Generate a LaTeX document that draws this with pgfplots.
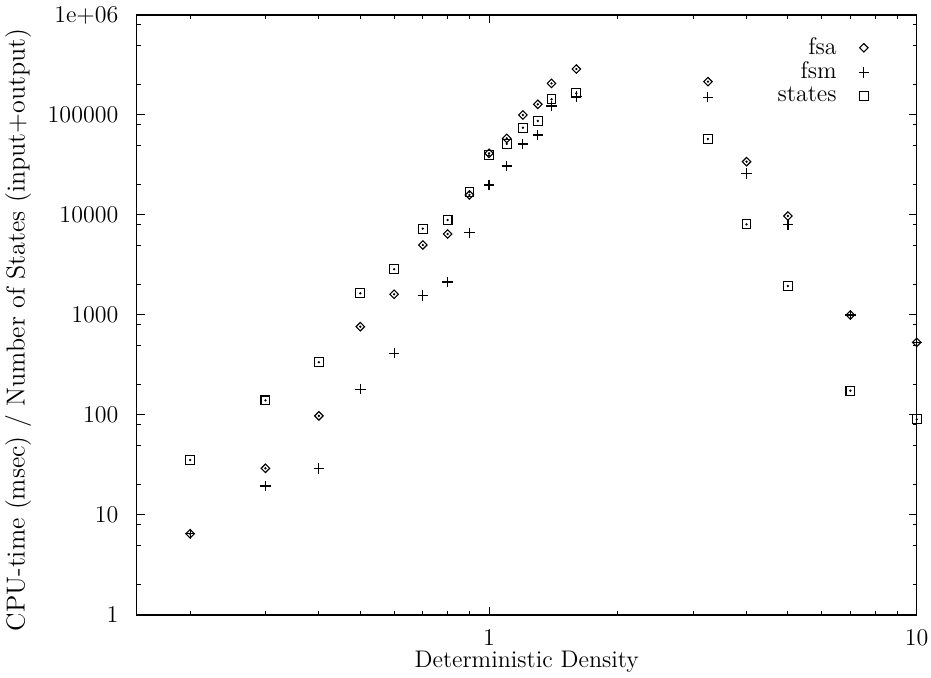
\documentclass[border=0pt,12pt]{standalone}
\usepackage{pgfplots}
\pgfplotsset{compat=1.18}
\pgfplotstableread{
x y
0.2 6.5
0.3 29.3
0.4 98
0.5 764
0.6 1611
0.7 5012
0.8 6457
0.9 15850
1.0 41400
1.1 58400
1.2 100000
1.3 128000
1.4 207000
1.6 288000
3.25 215400
4 34100
5 9770
7 1000
10 533
}\fsa
\pgfplotstableread{
x y
0.2 6.5
0.3 19.5
0.4 29.3
0.5 181
0.6 414
0.7 1573
0.8 2138
0.9 6650
1.0 19950
1.1 30900
1.2 51300
1.3 63100
1.4 123000
1.6 152500
3.25 150300
4 26100
5 8070
7 1000
10 533
}\fsm
\pgfplotstableread{
x y
0.2 35.5
0.3 140
0.4 337
0.5 1648
0.6 2864
0.7 7300
0.8 8913
0.9 17100
1.0 39500
1.1 51300
1.2 74700
1.3 87100
1.4 143600
1.6 164700
3.25 57500
4 8070
5 1950
7 175
10 90.5
}\states
\begin{document}
\begin{tikzpicture}
\begin{axis}[
  at={(0,0)}, anchor=south west,
  scale only axis, width=390pt, height=300pt,
  xmode=log, ymode=log,
  xmin=0.15, xmax=10, ymin=1, ymax=1e6,
  xtick={1,10}, xticklabels={1,10},
  minor xtick={0.2,0.3,0.4,0.5,0.6,0.7,0.8,0.9,2,3,4,5,6,7,8,9},
  ytick={1,10,100,1000,10000,100000,1000000},
  yticklabels={1,10,100,1000,10000,100000,1e+06},
  minor ytick={2,5,8,20,50,80,200,500,800,2000,5000,8000,20000,50000,80000,200000,500000,800000},
  major tick length=4pt, minor tick length=2pt,
  tick style={black, line width=0.5pt},
  axis line style={line width=0.7pt},
  tick align=inside,
  xticklabel style={yshift=-3pt},
  yticklabel style={xshift=-5pt},
  xlabel={Deterministic Density},
  ylabel={CPU-time (msec) / Number of States (input+output)},
  xlabel style={at={(axis description cs:0.5,-0.078)}, anchor=center},
  ylabel style={at={(axis description cs:-0.152,0.475)}, anchor=center, font=\fontsize{13}{15}\selectfont},
  clip=false,
  legend plot pos=right,
  legend cell align=right,
  legend style={draw=none, fill=none, at={(rel axis cs:0.942,0.973)}, anchor=north east,
    row sep=-2pt, column sep=9pt, inner sep=1pt},
]
\addplot[only marks, mark=square, mark size=1.5pt, mark options={rotate=45, line width=0.55pt}] table {\fsa};
\addlegendentry{fsa}
\addplot[only marks, mark=+, mark size=2.6pt, mark options={line width=0.55pt}] table {\fsm};
\addlegendentry{fsm}
\addplot[only marks, mark=square, mark size=2.2pt, mark options={line width=0.55pt}] table {\states};
\addlegendentry{states}
\addplot[only marks, mark=*, mark size=0.35pt, forget plot] table {\states};
\addplot[only marks, mark=*, mark size=0.35pt, forget plot] table {\fsa};
\end{axis}
\pgfresetboundingbox
\path[use as bounding box] (-68.35pt,-31.5pt) rectangle (397.15pt,307.5pt);
\end{tikzpicture}
\end{document}
